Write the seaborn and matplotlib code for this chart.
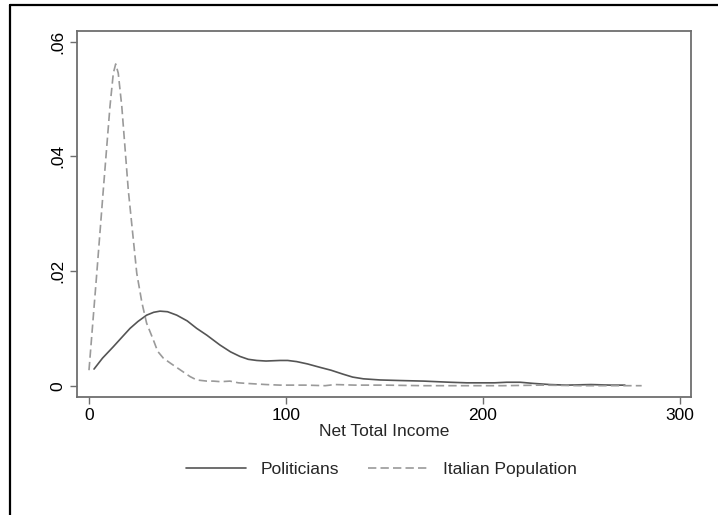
import matplotlib
matplotlib.use("Agg")
import matplotlib.pyplot as plt
import seaborn as sns
import pandas as pd
from matplotlib.lines import Line2D

# ---- data ----
pol_x = [2.7, 7, 12.5, 17, 21, 25, 29.4, 33, 36.2, 40, 44.7, 50, 54.8, 60, 66.6, 72,
         76.8, 81, 85.3, 90, 97.1, 101, 105.6, 111, 117.4, 123, 129.2, 134, 139.4,
         147.9, 158, 170, 183.4, 192, 200.3, 206, 212.2, 219, 225.7, 234, 242.6,
         255, 265, 272.2]
pol_y = [0.0029, 0.0048, 0.0068, 0.0085, 0.0100, 0.0112, 0.0123, 0.0128, 0.0130,
         0.0129, 0.0123, 0.0113, 0.0100, 0.0088, 0.0071, 0.0059, 0.0051, 0.0046,
         0.0044, 0.0043, 0.0044, 0.0044, 0.0042, 0.0038, 0.0032, 0.0027, 0.0020,
         0.0015, 0.0012, 0.0010, 0.0009, 0.0008, 0.0006, 0.0005, 0.0005, 0.0005,
         0.0006, 0.0006, 0.0004, 0.0002, 0.0001, 0.0002, 0.0001, 0.0001]

ita_x = [0.15, 4.1, 7.4, 10.8, 12.5, 13.7, 15, 16.8, 20.1, 24.4, 27, 29.4, 32.8, 35,
         37.9, 42, 46.3, 51.4, 54.8, 60, 63.2, 67, 71.7, 76, 80.2, 90, 97.1, 110,
         120, 125, 135, 150, 170, 190, 210, 230, 250, 265, 280.7]
ita_y = [0.0027, 0.0196, 0.0341, 0.0487, 0.0545, 0.0561, 0.0545, 0.0487, 0.0341,
         0.0196, 0.0145, 0.0109, 0.0080, 0.0060, 0.0048, 0.0038, 0.0028, 0.0016,
         0.0010, 0.0008, 0.0008, 0.0007, 0.0008, 0.0005, 0.0004, 0.0002, 0.0001,
         0.0001, 0.0000, 0.0002, 0.0001, 0.0001, 0.0000, 0.0000, 0.0000, 0.0001,
         0.0000, 0.0000, 0.0000]

series_names = ["Politicians", "Italian Population"]
x_ticks = [0, 100, 200, 300]
x_tick_labels = ["0", "100", "200", "300"]
y_ticks = [0, 0.02, 0.04, 0.06]
y_tick_labels = ["0", ".02", ".04", ".06"]
x_label = "Net Total Income"

# ---- plot ----
sns.set_style("white")
plt.rcParams["font.family"] = ["Liberation Sans", "DejaVu Sans"]
FS = 12.5

fig = plt.figure(figsize=(7.18, 5.15), dpi=100)
ax = fig.add_axes([0.1068, 0.2297, 0.962 - 0.1068, 0.9398 - 0.2297])

df_pol = pd.DataFrame({"x": pol_x, "y": pol_y})
df_ita = pd.DataFrame({"x": ita_x, "y": ita_y})

sns.lineplot(data=df_pol, x="x", y="y", ax=ax, color="#555555", linewidth=1.2,
             sort=False, estimator=None)
sns.lineplot(data=df_ita, x="x", y="y", ax=ax, color="#9a9a9a", linewidth=1.2,
             sort=False, estimator=None)
ax.lines[1].set_dashes((5, 2.5))

ax.set_xlim(-6.1, 305.6)
ax.set_ylim(-0.00192, 0.06185)
ax.set_xticks(x_ticks)
ax.set_xticklabels(x_tick_labels, fontsize=FS)
ax.set_yticks(y_ticks)
ax.set_yticklabels(y_tick_labels, fontsize=FS, rotation=90, va="center")
ax.set_xlabel(x_label, fontsize=FS, labelpad=1)
ax.set_ylabel("")

for s in ax.spines.values():
    s.set_visible(True)
    s.set_color("#6e6e6e")
    s.set_linewidth(1.3)
ax.tick_params(axis="both", which="major", direction="out", length=5, width=1,
               color="#6e6e6e", labelcolor="black", pad=3,
               bottom=True, left=True)

handles = [Line2D([0], [0], color="#555555", lw=1.2),
           Line2D([0], [0], color="#9a9a9a", lw=1.2, dashes=(5, 2.5))]
fig.legend(handles, series_names, loc="center", bbox_to_anchor=(0.531, 0.089),
           ncol=2, frameon=False, fontsize=FS, handlelength=3.5,
           columnspacing=1.7, handletextpad=0.8)

# outer frame (left and top edges visible in reference)
fig.add_artist(Line2D([9.5 / 718, 9.5 / 718], [0, 1 - 5 / 515], color="black",
                      lw=1.6, transform=fig.transFigure))
fig.add_artist(Line2D([9.5 / 718, 1], [1 - 5 / 515, 1 - 5 / 515], color="black",
                      lw=1.6, transform=fig.transFigure))

fig.savefig("out.png", dpi=100, facecolor="white")
